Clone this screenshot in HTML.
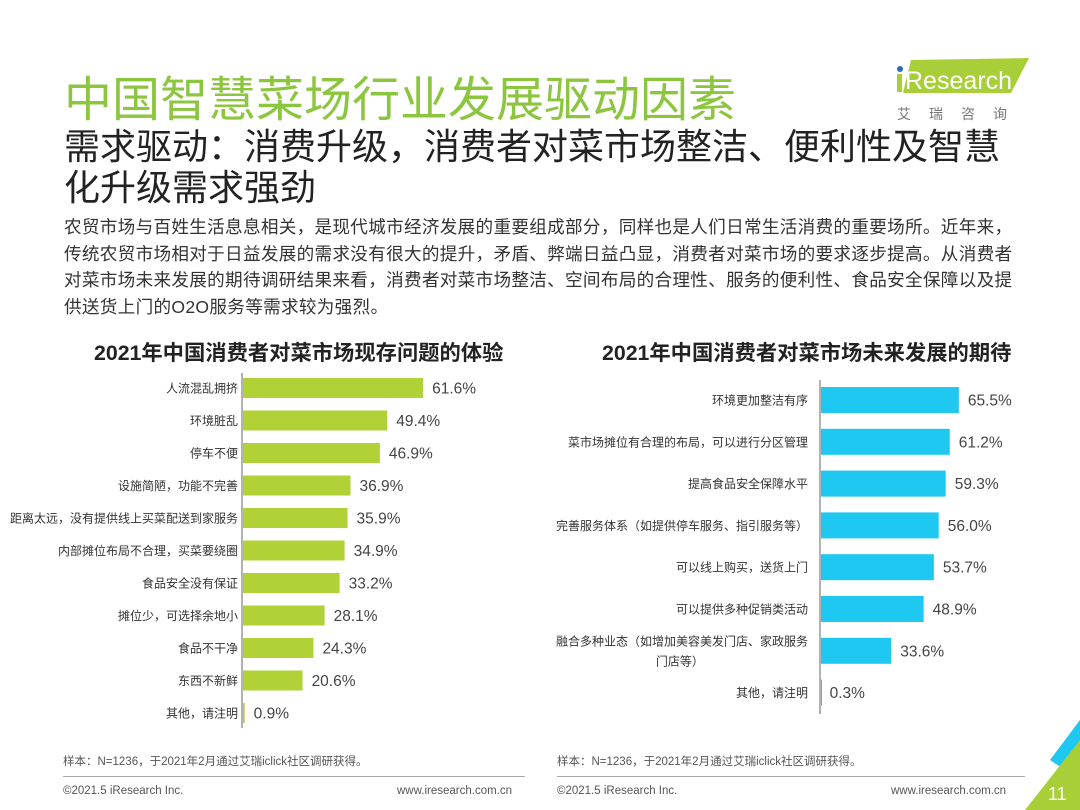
<!DOCTYPE html>
<html><head><meta charset="utf-8">
<style>
*{margin:0;padding:0;box-sizing:border-box}
body{width:1080px;height:810px;background:#fff;position:relative;overflow:hidden;font-family:"Liberation Sans","Noto Sans CJK SC",sans-serif;color:#333}
.abs{position:absolute;white-space:nowrap}
</style></head><body>
<div class="abs" style="left:64px;top:60px;font-size:48px;color:#8cc63f;letter-spacing:0px">中国智慧菜场行业发展驱动因素</div>
<div class="abs" style="left:893px;top:56px;width:140px;height:70px">
<svg width="140" height="70"><polygon points="18,4 136,2 118,37 10,37" fill="#a8cf38"/><circle cx="7" cy="13" r="3" fill="#2a6db5"/><rect x="4" y="18" width="5" height="18" fill="#a8cf38"/><text x="12" y="33" font-size="25" fill="#fff" font-family="Liberation Sans">Research</text><text x="4" y="63" font-size="14" fill="#777" font-family="Noto Sans CJK SC" letter-spacing="18">艾瑞咨询</text></svg></div>
<div class="abs" style="left:64px;top:126px;font-size:36px;line-height:41px;color:#222">需求驱动：消费升级，消费者对菜市场整洁、便利性及智慧<br>化升级需求强劲</div>
<div class="abs" style="left:64px;top:214px;font-size:17.6px;letter-spacing:0.3px;line-height:26.7px;color:#333">农贸市场与百姓生活息息相关，是现代城市经济发展的重要组成部分，同样也是人们日常生活消费的重要场所。近年来，<br>传统农贸市场相对于日益发展的需求没有很大的提升，矛盾、弊端日益凸显，消费者对菜市场的要求逐步提高。从消费者<br>对菜市场未来发展的期待调研结果来看，消费者对菜市场整洁、空间布局的合理性、服务的便利性、食品安全保障以及提<br>供送货上门的O2O服务等需求较为强烈。</div>
<div class="abs" style="left:94px;top:336px;font-size:21.3px;font-weight:bold;color:#222">2021年中国消费者对菜市场现存问题的体验</div>
<div class="abs" style="left:602px;top:336px;font-size:21.3px;font-weight:bold;color:#222">2021年中国消费者对菜市场未来发展的期待</div>
<svg id="chart" class="abs" style="left:0;top:0" width="1080" height="810"></svg>
<div class="abs" style="left:63px;top:753px;font-size:11.5px;color:#555">样本：N=1236，于2021年2月通过艾瑞iclick社区调研获得。</div>
<div class="abs" style="left:557px;top:753px;font-size:11.5px;color:#555">样本：N=1236，于2021年2月通过艾瑞iclick社区调研获得。</div>
<div class="abs" style="left:63px;top:776px;width:462px;height:1px;background:#aaa"></div>
<div class="abs" style="left:557px;top:776px;width:468px;height:1px;background:#aaa"></div>
<div class="abs" style="left:63px;top:785px;font-size:11.5px;color:#555">©2021.5 iResearch Inc.</div>
<div class="abs" style="left:397px;top:785px;font-size:11.5px;color:#555">www.iresearch.com.cn</div>
<div class="abs" style="left:557px;top:785px;font-size:11.5px;color:#555">©2021.5 iResearch Inc.</div>
<div class="abs" style="left:891px;top:785px;font-size:11.5px;color:#555">www.iresearch.com.cn</div>
<svg class="abs" style="left:1020px;top:720px" width="60" height="90"><polygon points="60,0 60,60 30,40" fill="#1ec8f0"/><polygon points="60,20 60,90 5,90" fill="#a8cf38"/><text x="28" y="80" font-size="18" fill="#fff" font-family="Liberation Sans">11</text></svg>
<script>
const leftCats=["人流混乱拥挤","环境脏乱","停车不便","设施简陋，功能不完善","距离太远，没有提供线上买菜配送到家服务","内部摊位布局不合理，买菜要绕圈","食品安全没有保证","摊位少，可选择余地小","食品不干净","东西不新鲜","其他，请注明"];
const leftVals=[61.6,49.4,46.9,36.9,35.9,34.9,33.2,28.1,24.3,20.6,0.9];
const rightCats=[["环境更加整洁有序"],["菜市场摊位有合理的布局，可以进行分区管理"],["提高食品安全保障水平"],["完善服务体系（如提供停车服务、指引服务等）"],["可以线上购买，送货上门"],["可以提供多种促销类活动"],["融合多种业态（如增加美容美发门店、家政服务","门店等）"],["其他，请注明"]];
const rightVals=[65.5,61.2,59.3,56.0,53.7,48.9,33.6,0.3];
const svg=document.getElementById('chart');
const NS='http://www.w3.org/2000/svg';
function mk(tag,attrs){const e=document.createElementNS(NS,tag);for(const k in attrs)e.setAttribute(k,attrs[k]);svg.appendChild(e);return e;}
function drawChart(cats,vals,o){
  const x=v=>o.x0+v*o.scale;
  const y=i=>o.y0+i*o.step;
  const ax=mk('line',{x1:o.x0,x2:o.x0,y1:o.ay1,y2:o.ay2,stroke:'#999','stroke-width':1.5});
  
  
  vals.forEach((v,i)=>{
    const r=mk('rect',{x:o.x0+1,y:y(i)-o.bh/2,width:Math.max(1,x(v)-o.x0-1),height:o.bh,fill:o.color});
    
    
    const t=mk('text',{x:x(v)+9,y:y(i)+5.5,'font-size':15.5,fill:'#444','font-family':'Liberation Sans'});
    t.textContent=v.toFixed(1)+'%';
    
    
    const lines=Array.isArray(cats[i])?cats[i]:[cats[i]];
    lines.forEach((ln,j)=>{
      const dy=(j-(lines.length-1)/2)*20;
      const c=mk('text',{x:o.x0-o.lblGap,y:y(i)+4.5+dy,'font-size':12,fill:'#333','text-anchor':j>0?'middle':'end','font-family':'Noto Sans CJK SC'});
      if(j>0){c.setAttribute('x',o.x0-o.lblGap-lines[0].length*6.1);}
      c.textContent=ln;
      
      
    });
  });
}
drawChart(leftCats,leftVals,{id:'left',x0:242,scale:2.94,y0:388,step:32.5,bh:20,color:'#b0d236',ay1:373,ay2:728,lblGap:4});
drawChart(rightCats,rightVals,{id:'right',x0:820,scale:2.12,y0:400,step:41.8,bh:26,color:'#1ec8f0',ay1:380,ay2:714,lblGap:12});
</script>
</body></html>
